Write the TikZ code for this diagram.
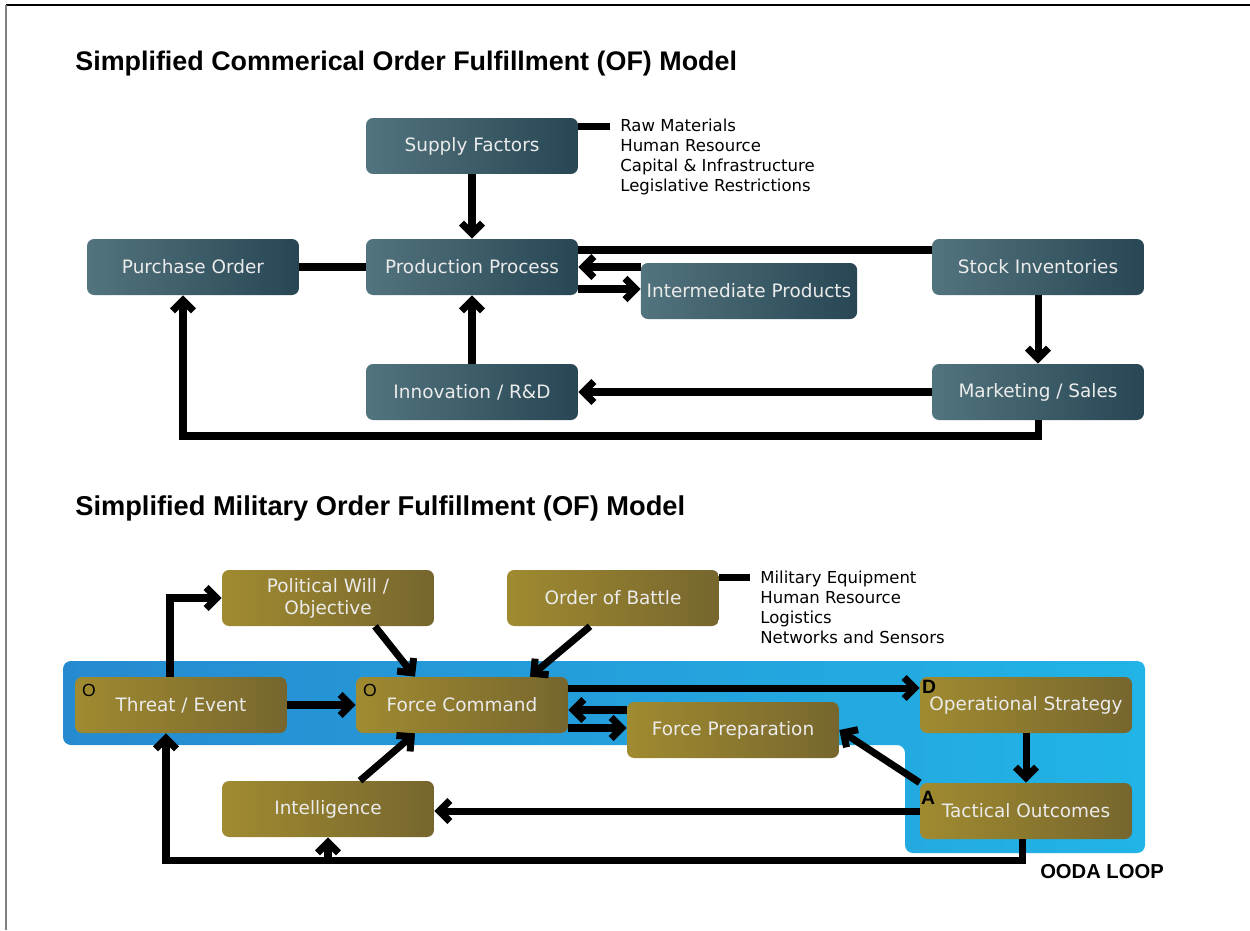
\documentclass[tikz,border=0pt]{standalone}
\usepackage{fontspec}
\setmainfont{DejaVu Sans}
\newfontfamily\headfont{Liberation Sans}
\usetikzlibrary{arrows.meta}

\definecolor{teallight}{RGB}{82,116,126}
\definecolor{tealdark}{RGB}{40,70,84}
\definecolor{goldlight}{RGB}{160,139,48}
\definecolor{golddark}{RGB}{118,102,46}
\definecolor{oodaleft}{RGB}{38,138,208}
\definecolor{oodaright}{RGB}{34,180,230}

\begin{document}
\begin{tikzpicture}[
        x=0.02cm, y=-0.02cm,
        box/.style={rectangle, rounded corners=4pt, minimum width=4.24cm, minimum height=1.12cm, align=center, text=white!92!black, font=\fontsize{10.5}{12.5}\selectfont},
        tealbox/.style={box, left color=teallight, right color=tealdark},
        goldbox/.style={box, left color=goldlight, right color=golddark},
        arrow/.style={-{Straight Barb[length=6pt,width=12pt]}, line width=4pt},
        link/.style={line width=4pt},
        title/.style={anchor=west, inner sep=0pt, font=\headfont\bfseries\fontsize{15.3}{18}\selectfont},
        listtext/.style={anchor=north west, align=left, inner xsep=0.2cm, inner ysep=0pt, font=\fontsize{9.4}{11.3}\selectfont},
        tag/.style={anchor=north west, inner sep=0pt, font=\headfont\bfseries\fontsize{11}{12}\selectfont},
        smalltag/.style={anchor=north west, inner sep=0pt, font=\headfont\fontsize{10}{11}\selectfont}
        ]
        \useasboundingbox (0,0) rectangle (1250,930);
        \draw[black, line width=0.6pt] (6,5) -- (1250,5);
        \draw[gray, line width=1.2pt] (6,5) -- (6,930);

        % commercial model
        \node[title] (comtitle) at (75,64) {Simplified Commerical Order Fulfillment (OF) Model};

        \node[tealbox] (supply) at (472,146) {Supply Factors};
        \node[tealbox] (purchase) at (193,267) {Purchase Order};
        \node[tealbox] (production) at (472,267) {Production Process};
        \node[tealbox] (intermed) at (749,291) {Intermediate Products};
        \node[tealbox] (stock) at (1038,267) {Stock Inventories};
        \node[tealbox] (innovation) at (472,392) {Innovation / R\&D};
        \node[tealbox] (marketing) at (1038,392) {Marketing / Sales};
        \node[listtext] (supplylist) at (610,119) {Raw Materials\\Human Resource\\Capital \& Infrastructure\\Legislative Restrictions};
        \coordinate (combase) at (0,436);

        \draw[arrow] (supply) -- (production);
        \draw[link] (purchase) -- (production);
        \draw[link] ([yshift=0.34cm]stock.west) -- ([yshift=0.34cm]production.east);
        \draw[arrow] (intermed.west |- production.east) -- (production.east);
        \draw[arrow] ([yshift=-0.44cm]production.east) -- ([yshift=-0.44cm]production.east -| intermed.west);
        \draw[arrow] (stock) -- (marketing);
        \draw[arrow] (marketing) -- (innovation);
        \draw[arrow] (innovation) -- (production);
        \draw[arrow] (marketing.south) -- (marketing.south |- combase) -| ([xshift=-0.2cm]purchase.south);
        \draw[link] ([yshift=-0.18cm]supply.north east) -- ([yshift=-0.18cm]supply.north east -| supplylist.west);

        % military model
        \node[title, font=\headfont\bfseries\fontsize{15.5}{18}\selectfont] (miltitle) at (75,508) {Simplified Military Order Fulfillment (OF) Model};

        \shade[left color=oodaleft, right color=oodaright, rounded corners=0.16cm]
            (63,661) -- (1145,661) -- (1145,853) -- (905,853) -- (905,745) -- (63,745) -- cycle;

        \node[goldbox] (political) at (328,598) {Political Will /\\Objective};
        \node[goldbox] (battle) at (613,598) {Order of Battle};
        \node[goldbox] (threat) at (181,705) {Threat / Event};
        \node[goldbox] (command) at (462,705) {Force Command};
        \node[goldbox] (operational) at (1026,705) {Operational Strategy};
        \node[goldbox] (preparation) at (733,730) {Force Preparation};
        \node[goldbox] (intelligence) at (328,809) {Intelligence};
        \node[goldbox] (tactical) at (1026,811) {Tactical Outcomes};
        \node[listtext] (battlelist) at (750,571) {Military Equipment\\Human Resource\\Logistics\\Networks and Sensors};

        \node[smalltag] (tagthreat) at ([shift={(0.14cm,-0.14cm)}]threat.north west) {O};
        \node[smalltag] (tagcommand) at ([shift={(0.14cm,-0.14cm)}]command.north west) {O};
        \node[tag] (tagoperational) at ([shift={(0.04cm,-0.06cm)}]operational.north west) {D};
        \node[tag] (tagtactical) at ([shift={(0.02cm,-0.16cm)}]tactical.north west) {A};
        \node[font=\headfont\bfseries\fontsize{11.5}{13}\selectfont] (oodalabel) at (1102,872) {OODA LOOP};
        \coordinate (milbase) at (0,860);

        \draw[arrow] ([xshift=-0.22cm]threat.north) |- (political.west);
        \draw[arrow] ([xshift=0.94cm]political.south) -- ([xshift=-0.94cm]command.north);
        \draw[arrow] ([xshift=-0.46cm]battle.south) -- ([xshift=1.36cm]command.north);
        \draw[arrow] (threat) -- (command);
        \draw[arrow] ([yshift=0.34cm]command.east) -- ([yshift=0.34cm]operational.west);
        \draw[arrow] ([yshift=-0.1cm]preparation.west |- command.east) -- ([yshift=-0.1cm]command.east);
        \draw[arrow] ([yshift=-0.46cm]command.east) -- ([yshift=-0.46cm]command.east -| preparation.west);
        \draw[arrow] (operational) -- (tactical);
        \draw[arrow] (tactical.north west) -- (preparation.east);
        \draw[arrow] (tactical.west) -- (tactical.west -| intelligence.east);
        \draw[arrow] ([xshift=0.64cm]intelligence.north) -- ([xshift=-0.94cm]command.south);
        \draw[arrow] ([xshift=-0.08cm]tactical.south) -- ([xshift=-0.08cm]tactical.south |- milbase) -| ([xshift=-0.3cm]threat.south);
        \draw[arrow] (intelligence.south |- milbase) -- (intelligence.south);
        \draw[link] ([yshift=-0.16cm]battle.north east) -- ([yshift=-0.16cm]battle.north east -| battlelist.west);
    \end{tikzpicture}
\end{document}
